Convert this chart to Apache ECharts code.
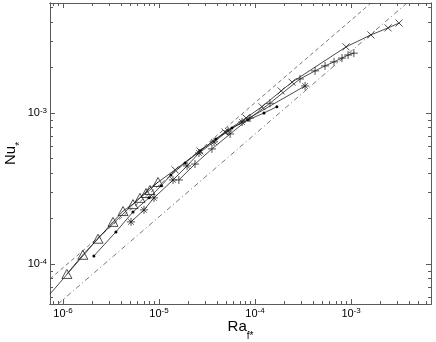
<!DOCTYPE html>
<html><head><meta charset="utf-8">
<script src="https://cdn.jsdelivr.net/npm/echarts@6/dist/echarts.min.js"></script>
<style>html,body{margin:0;padding:0;background:#fff}#c{width:436px;height:342px}</style>
</head><body><div id="c"></div>
<script>
// axis ranges and ticks (raw values; axes are logarithmic)
const xRange = [7.33e-7, 6.8e-3];
const yRange = [5.43e-5, 5.35e-3];
const xMajor = [1e-6, 1e-5, 1e-4, 1e-3];
const xMinor = [8e-7, 9e-7, 2e-6, 3e-6, 4e-6, 5e-6, 6e-6, 7e-6, 8e-6, 9e-6,
  2e-5, 3e-5, 4e-5, 5e-5, 6e-5, 7e-5, 8e-5, 9e-5,
  2e-4, 3e-4, 4e-4, 5e-4, 6e-4, 7e-4, 8e-4, 9e-4,
  2e-3, 3e-3, 4e-3, 5e-3, 6e-3];
const yMajor = [1e-4, 1e-3];
const yMinor = [6e-5, 7e-5, 8e-5, 9e-5, 2e-4, 3e-4, 4e-4, 5e-4, 6e-4, 7e-4, 8e-4, 9e-4,
  2e-3, 3e-3, 4e-3, 5e-3];

// data series
const triRa = [1.10e-6, 1.61e-6, 2.32e-6, 3.32e-6, 4.22e-6, 5.36e-6, 6.34e-6, 7.33e-6, 8.05e-6, 9.77e-6];
const triNu = [8.59e-5, 1.15e-4, 1.47e-4, 1.90e-4, 2.24e-4, 2.49e-4, 2.74e-4, 2.95e-4, 3.09e-4, 3.49e-4];

const dotRa = [2.10e-6, 3.56e-6, 5.36e-6, 7.87e-6, 1.05e-5, 1.33e-5, 1.87e-5, 2.67e-5, 3.93e-5, 5.75e-5, 8.45e-5, 1.24e-4, 1.69e-4];
const dotNu = [1.13e-4, 1.63e-4, 2.21e-4, 2.74e-4, 3.29e-4, 3.88e-4, 4.67e-4, 5.60e-4, 6.73e-4, 7.96e-4, 8.99e-4, 1.00e-3, 1.10e-3];

const astRa = [5.11e-6, 6.98e-6, 8.87e-6, 1.40e-5, 1.96e-5, 2.61e-5, 3.74e-5, 5.24e-5, 7.33e-5, 3.32e-4];
const astNu = [1.90e-4, 2.28e-4, 2.74e-4, 3.60e-4, 4.46e-4, 5.43e-4, 6.43e-4, 7.60e-4, 8.71e-4, 1.51e-3];

const plusRa = [1.61e-5, 2.37e-5, 3.56e-5, 5.50e-5, 8.87e-5, 1.43e-4, 2.94e-4, 4.22e-4, 5.36e-4, 6.65e-4, 8.05e-4, 9.31e-4, 1.07e-3];
const plusNu = [3.60e-4, 4.59e-4, 5.78e-4, 7.26e-4, 9.27e-4, 1.16e-3, 1.68e-3, 1.90e-3, 2.05e-3, 2.18e-3, 2.31e-3, 2.42e-3, 2.49e-3];

const crossRa = [1.47e-5, 2.67e-5, 4.87e-5, 8.05e-5, 1.18e-4, 1.87e-4, 2.43e-4, 8.87e-4, 1.61e-3, 2.43e-3, 3.16e-3];
const crossNu = [4.20e-4, 5.60e-4, 7.48e-4, 9.27e-4, 1.10e-3, 1.40e-3, 1.60e-3, 2.74e-3, 3.29e-3, 3.66e-3, 3.94e-3];

const curveRa = [7.33e-7, 2.43e-6, 8.05e-6, 1.47e-5];
const curveNu = [6.32e-5, 1.53e-4, 3.18e-4, 4.20e-4];

const dashRa = [7.33e-7, 1.615e-3];
const dashNu = [7.96e-5, 5.35e-3];
const dashDotRa = [8.87e-7, 3.83e-3];
const dashDotNu = [5.43e-5, 5.35e-3];

// logarithmic mapping onto ECharts value axes
const L = Math.log10;
const zip = (a, b) => a.map((v, i) => [L(v), L(b[i])]);

const FONT = 'Liberation Sans';
const AX = '#5a5a5a';
const LC = '#1e1e1e';

function supFmt(v) {
  const e = Math.round(v);
  return '{a|10}{b|' + e + '}';
}
const richLab = {
  a: { fontSize: 11, lineHeight: 13, fontFamily: FONT, color: '#000' },
  b: { fontSize: 8, lineHeight: 8, fontFamily: FONT, color: '#000', verticalAlign: 'top' }
};

function ax(dim, gridIndex, position, ticks, len, labels) {
  const r = dim === 'x' ? xRange : yRange;
  return {
    type: 'value', gridIndex, position, min: L(r[0]), max: L(r[1]), scale: true,
    nameMoveOverlap: false,
    axisLine: { show: true, onZero: false, lineStyle: { color: AX, width: 1 } },
    axisTick: { show: true, inside: true, length: len, customValues: ticks.map(L), lineStyle: { color: AX, width: 1 } },
    axisLabel: labels ? { show: true, customValues: ticks.map(L), margin: 3, formatter: supFmt, rich: richLab } : { show: false },
    splitLine: { show: false }, minorTick: { show: false }
  };
}

const xAxes = [ax('x', 0, 'bottom', xMajor, 5, true), ax('x', 0, 'top', xMajor, 5, false),
               ax('x', 1, 'bottom', xMinor, 3, false), ax('x', 1, 'top', xMinor, 3, false)];
xAxes[0].name = '{n|Ra}{s|f*}';
xAxes[0].nameLocation = 'middle';
xAxes[0].nameGap = 14;
xAxes[0].nameTextStyle = { rich: {
  n: { fontSize: 15, fontFamily: FONT, color: '#000', lineHeight: 18 },
  s: { fontSize: 10, fontFamily: FONT, color: '#000', verticalAlign: 'bottom', lineHeight: 10, padding: [0, 0, -5, 0] } } };

const yAxes = [ax('y', 0, 'left', yMajor, 5, true), ax('y', 0, 'right', yMajor, 5, false),
               ax('y', 1, 'left', yMinor, 3, false), ax('y', 1, 'right', yMinor, 3, false)];
yAxes[0].name = '{n|Nu}{s|*}';
yAxes[0].nameLocation = 'middle';
yAxes[0].nameGap = 30;
yAxes[0].nameRotate = 90;
yAxes[0].nameTextStyle = { rich: {
  n: { fontSize: 15, fontFamily: FONT, color: '#000', lineHeight: 18 },
  s: { fontSize: 10, fontFamily: FONT, color: '#000', verticalAlign: 'bottom', lineHeight: 10, padding: [0, 0, -5, 0] } } };

const gridRect = { left: 50, right: 5, top: 3, bottom: 38, containLabel: false, outerBoundsMode: 'none' };

const PATH_X = 'path://M0,0L10,10M10,0L0,10';
const PATH_P = 'path://M5,0L5,10M0,5L10,5';
const PATH_A = 'path://M5,0L5,10M0,5L10,5M1.5,1.5L8.5,8.5M8.5,1.5L1.5,8.5';

function lineSeries(data, extra) {
  return Object.assign({
    type: 'line', xAxisIndex: 0, yAxisIndex: 0, data, showAllSymbol: true,
    lineStyle: { color: LC, width: 0.8 }, silent: true, animation: false
  }, extra);
}

const option = {
  animation: false,
  backgroundColor: '#fff',
  grid: [Object.assign({}, gridRect), Object.assign({}, gridRect)],
  xAxis: xAxes,
  yAxis: yAxes,
  series: [
    lineSeries(zip(dashRa, dashNu), { symbol: 'none', lineStyle: { color: '#555', width: 0.8, type: [4, 3] } }),
    lineSeries(zip(dashDotRa, dashDotNu), { symbol: 'none', lineStyle: { color: '#555', width: 0.8, type: [5, 3, 1, 3] } }),
    lineSeries(zip(curveRa, curveNu), { symbol: 'none' }),
    lineSeries(zip(triRa, triNu), { symbol: 'triangle', symbolSize: [10, 9],
      itemStyle: { color: 'rgba(0,0,0,0)', borderColor: '#222', borderWidth: 0.8 } }),
    lineSeries(zip(dotRa, dotNu), { symbol: 'circle', symbolSize: 3,
      itemStyle: { color: '#000', borderWidth: 0 } }),
    lineSeries(zip(astRa, astNu), { symbol: PATH_A, symbolSize: 8,
      itemStyle: { color: 'rgba(0,0,0,0)', borderColor: '#222', borderWidth: 0.8 } }),
    lineSeries(zip(plusRa, plusNu), { symbol: PATH_P, symbolSize: 8,
      itemStyle: { color: 'rgba(0,0,0,0)', borderColor: '#222', borderWidth: 0.8 } }),
    lineSeries(zip(crossRa, crossNu), { symbol: PATH_X, symbolSize: 7,
      itemStyle: { color: 'rgba(0,0,0,0)', borderColor: '#222', borderWidth: 0.8 } })
  ]
};
const chart = echarts.init(document.getElementById('c'), null, { renderer: 'canvas' });
chart.setOption(option);
</script>
</body></html>
